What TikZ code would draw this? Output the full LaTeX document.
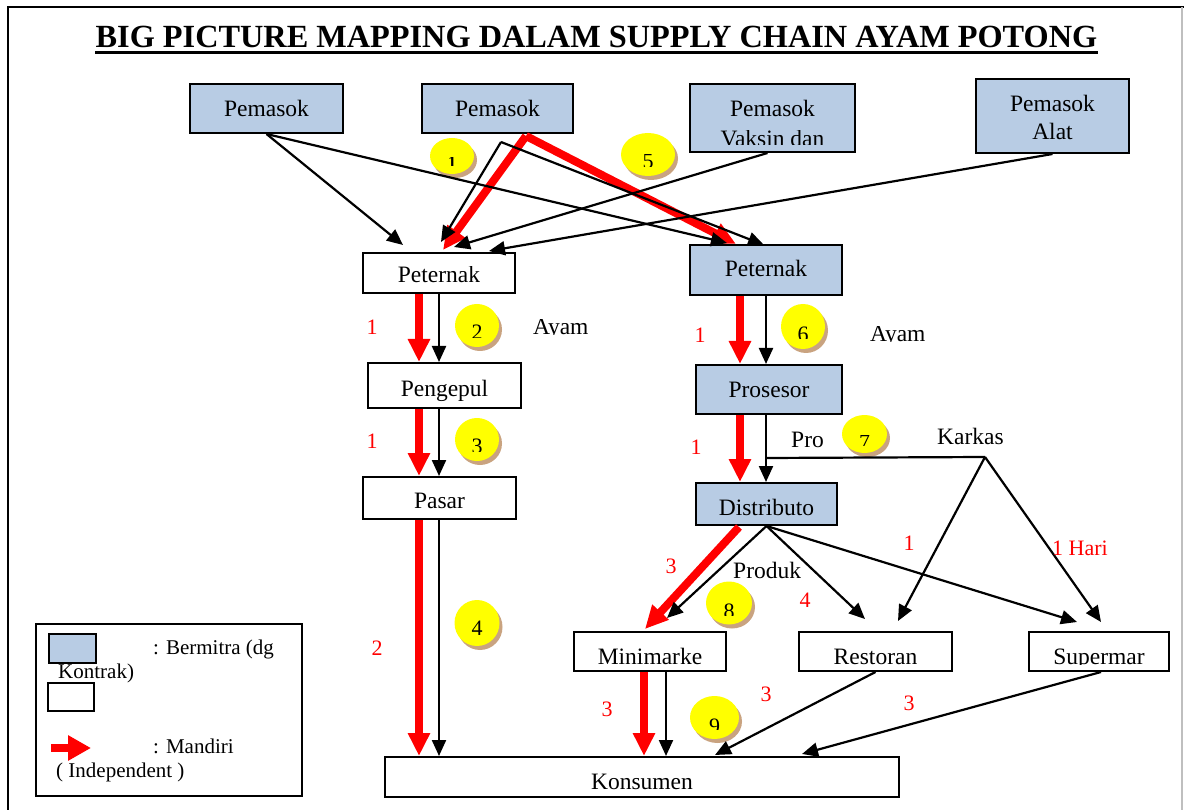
\documentclass[tikz,border=0pt]{standalone}
\usepackage{fontspec}
\setmainfont{Liberation Serif}
\usepackage{trimclip}
\usetikzlibrary{arrows.meta, calc, shapes.geometric, shadows}

\definecolor{mitra}{RGB}{184,204,228}
\definecolor{kuning}{RGB}{255,255,0}
\definecolor{bayang}{RGB}{201,163,128}
\newcommand\cut[2][0pt]{\clipbox*{0pt #1 {\width} {\height}}{#2}}

\begin{document}
\begin{tikzpicture}[x=1pt, y=-1pt,
    every node/.style={font=\fontsize{23.5}{28}\selectfont},
    kb/.style={draw, line width=2pt, inner sep=0pt, text height=20pt, text depth=0pt},
    bm/.style={kb, fill=mitra},
    num/.style={ellipse, fill=kuning, inner sep=0pt, text height=24pt, text depth=0pt,
      font=\fontsize{22}{26}\selectfont,
      drop shadow={shadow xshift=3pt, shadow yshift=-4pt, fill=bayang, opacity=1}},
    a/.style={-{Triangle[length=16pt, width=14pt]}, line width=2.2pt},
    ra/.style={-{Triangle[length=23pt, width=21pt]}, line width=8pt, red},
    rl/.style={red, inner sep=0pt, font=\fontsize{22}{26}\selectfont},
    tl/.style={anchor=base west, inner sep=0pt},
    lg/.style={tl, font=\fontsize{21}{25}\selectfont}
]
\useasboundingbox (0,0) rectangle (1184,810);
\draw[line width=2pt] (8,810) -- (8,7) -- (1184,7);
\draw[line width=1.5pt, black!25] (1182,7) -- (1182,810);

% judul
\node[anchor=base, inner sep=0pt, font=\bfseries\fontsize{32.3}{36}\selectfont] (title) at (596.5,48)
  {BIG PICTURE MAPPING DALAM SUPPLY CHAIN AYAM POTONG};
\draw[line width=3pt] ($(title.base west)+(0,5)$) -- ($(title.base east)+(0,5)$);

% kotak
\node[bm, minimum width=153pt, minimum height=49pt, text height=17pt] (pem1) at (266.5,108.5) {Pemasok};
\node[bm, minimum width=151pt, minimum height=49pt, text height=17pt] (pem2) at (497.5,108.5) {Pemasok};
\node[bm, minimum width=165pt, minimum height=68pt, text height=54pt] (vak) at (772.5,118)
  {\begin{tabular}[b]{@{}c@{}}Pemasok\\ \cut[2pt]{Vaksin dan}\end{tabular}};
\node[bm, minimum width=153pt, minimum height=74pt, text height=48pt] (alat) at (1052.5,116)
  {\begin{tabular}[b]{@{}c@{}}Pemasok\\ Alat\end{tabular}};
\node[kb, minimum width=152pt, minimum height=40pt] (pet1) at (439,273) {\cut{Peternak}};
\node[bm, minimum width=152pt, minimum height=50pt, text height=14pt] (pet2) at (766,270) {Peternak};
\node[kb, minimum width=153pt, minimum height=45pt, text height=21pt] (peng) at (444.5,385.5) {Pengepul};
\node[kb, minimum width=153pt, minimum height=42pt] (pasar) at (439.5,498) {Pasar};
\node[bm, minimum width=146pt, minimum height=49pt, text height=15pt] (pros) at (769,389.5) {Prosesor};
\node[bm, minimum width=141pt, minimum height=42pt, text height=22pt] (dist) at (766.5,504) {Distributo};
\node[kb, minimum width=152pt, minimum height=39pt, text height=25pt] (mini) at (650,651.5) {\cut{Minimarke}};
\node[kb, minimum width=153pt, minimum height=39pt, text height=25pt] (resto) at (875.5,651.5) {\cut{Restoran}};
\node[kb, minimum width=140pt, minimum height=39pt, text height=25pt] (super) at (1099,651.5) {\cut{Supermar}};
\node[kb, minimum width=514pt, minimum height=40pt, text height=24pt] (kons) at (642,777) {\cut{Konsumen}};

% nomor
\node[num, minimum width=44pt, minimum height=36pt, text height=20pt,
  font=\bfseries\fontsize{16}{20}\selectfont] (n1) at (452,156) {\cut[2pt]{1}};
\node[num, minimum width=44pt, minimum height=43pt] (n2) at (477,325.5) {\cut[2pt]{2}};
\node[num, minimum width=44pt, minimum height=43pt] (n3) at (477,439.5) {\cut[2pt]{3}};
\node[num, minimum width=45pt, minimum height=46pt] (n4) at (477,623) {4};
\node[num, minimum width=54pt, minimum height=43pt] (n5) at (648,154.5) {\cut[2pt]{5}};
\node[num, minimum width=44pt, minimum height=45pt] (n6) at (803,326.5) {\cut[3pt]{6}};
\node[num, minimum width=45pt, minimum height=38pt] (n7) at (864.5,434) {\cut[4pt]{7}};
\node[num, minimum width=46pt, minimum height=43pt] (n8) at (729,603) {\cut[3pt]{8}};
\node[num, minimum width=49pt, minimum height=43pt] (n9) at (714.5,717.5) {\cut[4pt]{9}};

% titik bantu
\coordinate (p2fork) at ($(pem2.south west)+(80,8)$);
\coordinate (p2red) at ($(pem2.south west)+(105,2)$);
\coordinate (tee) at ($(pros.south west)+(71,43)$);
\coordinate (karkas) at (985,457);

% panah ke peternak
\draw[ra] (p2red) -- ($(pet1.north west)+(81,-2)$);
\draw[ra] (p2red) -- ($(pet2.north west)+(47,0)$);
\draw[a] (pem1.south) -- ($(pet1.north west)+(41,-7)$);
\draw[a] (pem1.south) -- ($(pet2.north west)+(38,-1)$);
\draw[a] (p2fork) -- ($(pet1.north west)+(79,-10)$);
\draw[a] (p2fork) -- ($(pet2.north west)+(75,1)$);
\draw[a] ($(vak.south)+(-5,0)$) -- ($(pet1.north west)+(92,-5)$);
\draw[a] (alat.south) -- ($(pet1.north west)+(127,-1)$);

% jalur mandiri
\draw[ra] ($(pet1.south west)+(57,0)$) -- ($(peng.north west)+(52,0)$);
\draw[a] ($(pet1.south west)+(77,0)$) -- ($(peng.north west)+(72,0)$);
\draw[ra] ($(peng.south west)+(52,0)$) -- ($(pasar.north west)+(57,0)$);
\draw[a] ($(peng.south west)+(72,0)$) -- ($(pasar.north west)+(77,0)$);
\draw[ra] ($(pasar.south west)+(57,0)$) -- ($(kons.north west)+(35,0)$);
\draw[a] ($(pasar.south west)+(77,0)$) -- ($(kons.north west)+(55,0)$);

% jalur bermitra
\draw[ra] ($(pet2.south west)+(51,0)$) -- ($(pros.north west)+(45,0)$);
\draw[a] ($(pet2.south west)+(77,0)$) -- ($(pros.north west)+(71,0)$);
\draw[ra] ($(pros.south west)+(45,0)$) -- ($(dist.north west)+(45,0)$);
\draw[a] ($(pros.south west)+(71,0)$) -- ($(dist.north west)+(71,0)$);
\draw[line width=2.2pt] (tee) -- (karkas);
\draw[a] (karkas) -- ($(resto.north west)+(100,-10)$);
\draw[a] (karkas) -- ($(super.north west)+(73,-9)$);
\draw[ra] ($(dist.south west)+(44,1)$) -- ($(mini.north west)+(72,-2)$);
\draw[a] (dist.south) -- ($(mini.north west)+(94,-13)$);
\draw[a] (dist.south) -- ($(resto.north west)+(67,-12)$);
\draw[a] (dist.south) -- ($(super.north west)+(49,-9)$);
\draw[ra] ($(mini.south west)+(71,0)$) -- ($(kons.north west)+(260,0)$);
\draw[a] ($(mini.south west)+(93,0)$) -- ($(kons.north west)+(282,0)$);
\draw[a] (resto.south) -- ($(kons.north west)+(331,-1)$);
\draw[a] ($(super.south)+(2,0)$) -- ($(kons.north west)+(418,-2)$);

% keterangan
\node[tl] (ayam1) at (533,335) {\cut{Ayam}};
\node[tl] (ayam2) at (870,342) {\cut{Ayam}};
\node[tl] (pro) at (791,447) {\cut{Pro}};
\node[tl] (lkarkas) at (937,444) {Karkas};
\node[tl] (produk) at (733,578) {\cut{Produk}};

% waktu (merah)
\node[rl] (w1) at (372,327) {1};
\node[rl] (w2) at (372,441) {1};
\node[rl] (w3) at (377,648) {2};
\node[rl] (w4) at (700,335) {1};
\node[rl] (w5) at (696,447) {1};
\node[rl] (w6) at (671,566) {3};
\node[rl] (w7) at (805,600) {4};
\node[rl] (w8) at (909,543) {1};
\node[rl] (w9) at (1080,548) {1 Hari};
\node[rl] (w10) at (607,709) {3};
\node[rl] (w11) at (766,694) {3};
\node[rl] (w12) at (909,703) {3};

% legenda
\node[draw, line width=2pt, inner sep=0pt, minimum width=266pt, minimum height=172pt] (legend) at (169,710) {};
\node[draw, line width=2pt, inner sep=0pt, fill=mitra, minimum width=47pt, minimum height=29pt] (swmitra) at (72.5,648.5) {};
\node[draw, line width=2pt, inner sep=0pt, minimum width=46pt, minimum height=28pt] (swmandiri) at (71,697) {};
\coordinate (lgA) at (51,748);
\coordinate (lgB) at (91,748);
\draw[-{Triangle[length=23pt, width=24pt]}, line width=8pt, red] (lgA) -- (lgB);
\node[lg] (lgmitra) at (153,654) {: Bermitra (dg};
\node[lg] (lgkontrak) at (58,678) {Kontrak)};
\node[lg] (lgmandiri) at (153,753) {: Mandiri};
\node[lg] (lgindep) at (56,777) {( Independent )};
\end{tikzpicture}
\end{document}
